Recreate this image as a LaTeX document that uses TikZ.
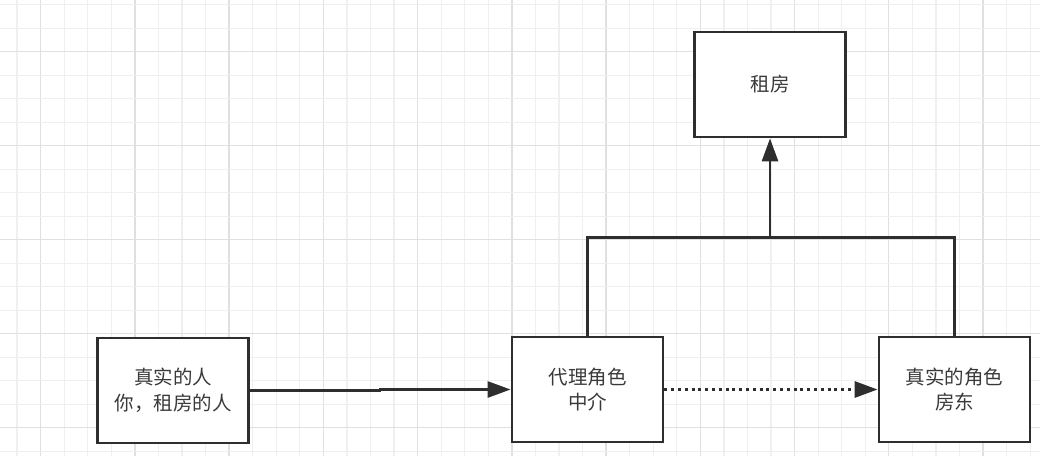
\documentclass[tikz,border=0pt]{standalone}
\usepackage{fontspec}
\newfontfamily\cjk{Noto Sans CJK SC}
\usetikzlibrary{arrows.meta}
\definecolor{gridminor}{HTML}{EFEFEF}
\definecolor{gridmajor}{HTML}{E0E0E0}
\definecolor{ink}{HTML}{2E2E2E}
\definecolor{txt}{HTML}{3A3A3A}
\tikzset{
  boxnode/.style={draw=ink, line width=2.8pt, fill=white, minimum width=151pt, minimum height=105pt,
    inner sep=0pt, align=center, font=\cjk\fontsize{19.5pt}{25.5pt}\selectfont, text=txt},
  conn/.style={draw=ink, line width=2.8pt},
  arr/.style={conn, -{Triangle[length=23pt,width=16pt]}},
  dotarr/.style={draw=ink, line width=3pt, dash pattern=on 3pt off 3.8pt, -{Triangle[length=23pt,width=16pt,sep=0pt]}},
}
\begin{document}
\begin{tikzpicture}[x=1pt,y=-1pt]
\useasboundingbox (0,0) rectangle (1040,456);
\fill[white] (0,0) rectangle (1040,456);
% grid
\foreach \i in {0,...,44}{
  \pgfmathtruncatemacro{\m}{mod(\i,4)}
  \ifnum\m=1
    \draw[gridmajor, line width=1.3pt] ({17.1+23.56*\i},0) -- ++(0,456);
  \else
    \draw[gridminor, line width=1.3pt] ({17.1+23.56*\i},0) -- ++(0,456);
  \fi
}
\foreach \i in {0,...,19}{
  \pgfmathtruncatemacro{\m}{mod(\i,4)}
  \ifnum\m=2
    \draw[gridmajor, line width=1.3pt] (0,{4.7+23.5*\i}) -- ++(1040,0);
  \else
    \draw[gridminor, line width=1.3pt] (0,{4.7+23.5*\i}) -- ++(1040,0);
  \fi
}
% nodes
\node[boxnode] (real) at (173,390.5) {真实的人\\你，租房的人};
\node[boxnode] (proxy) at (587.5,389.5) {代理角色\\中介};
\node[boxnode] (host) at (954.5,389.5) {真实的角色\\房东};
\node[boxnode] (rent) at (770,84.5) {租房};
% connectors
\coordinate (jog) at (380,390.5);
\coordinate (j) at (770,237.3);
\draw[arr] (real.east) -- (jog) |- (proxy.west);
\draw[dotarr] (proxy.east) -- (host.west);
\draw[conn] (proxy.north) |- (j) -| (host.north);
\draw[arr] (j) -- (rent.south);
\end{tikzpicture}
\end{document}
